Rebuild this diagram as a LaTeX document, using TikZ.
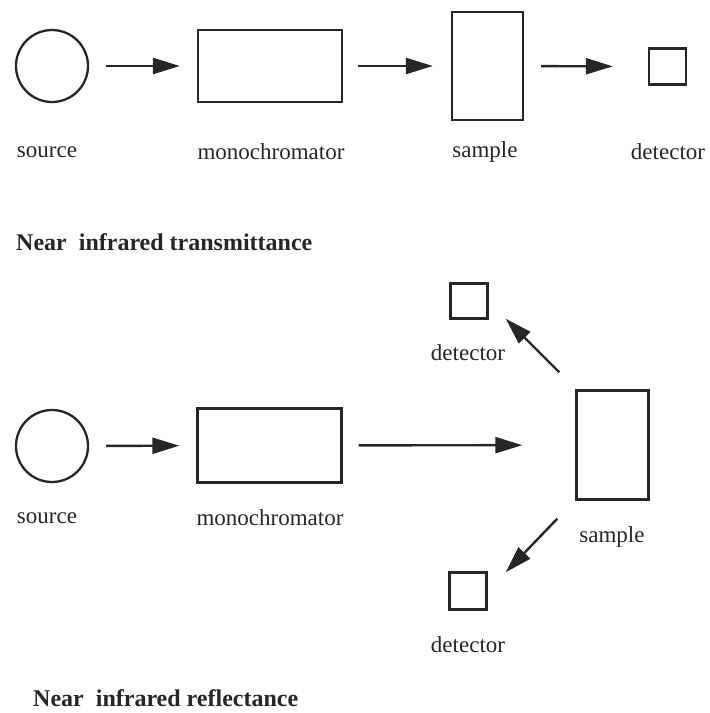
\documentclass[tikz,border=0pt]{standalone}
\usepackage{fontspec}
\setmainfont{Liberation Serif}
\usetikzlibrary{arrows.meta,calc}

\tikzset{
  part/.style={draw=black!85, line width=2.3pt, inner sep=0pt, fill=none},
  lamp/.style={part, circle, minimum size=72pt},
  unit/.style={part, rectangle},
  lbl/.style={font=\fontsize{23}{27}\selectfont, inner sep=0pt, text=black!85},
  ttl/.style={font=\fontsize{24}{28}\selectfont\bfseries, inner sep=0pt, anchor=west, text=black!85},
  beam/.style={line width=2.4pt, draw=black!85, -{Triangle[length=27pt,width=16pt]}}
}

\begin{document}
\begin{tikzpicture}[x=1pt,y=-1pt]
\useasboundingbox (0,0) rectangle (710,713);

% transmittance layout
\node[lamp] (src1) at (52,66) {};
\node[unit, minimum width=144pt, minimum height=72pt] (mono1) at (270,66) {};
\node[unit, minimum width=71pt, minimum height=108pt] (smp1) at (487.5,66) {};
\node[unit, minimum width=37pt, minimum height=36pt] (det1) at (667.5,66.5) {};

\node[lbl] (src1l) at (47,152) {source};
\node[lbl] (mono1l) at (271,152) {monochromator};
\node[lbl] (smp1l) at (485,152) {sample};
\node[lbl] (det1l) at (668,152) {detector};

\draw[beam, shorten <=17pt, shorten >=17pt] (src1) -- (mono1);
\draw[beam, shorten <=15pt, shorten >=18pt] (mono1) -- (smp1);
\draw[beam, shorten <=17pt, shorten >=35pt] (smp1) -- (det1);

\node[ttl] (tt1) at (16,242) {Near\ \ infrared transmittance};

% reflectance layout
\node[lamp] (src2) at (52,446) {};
\node[unit, minimum width=144pt, minimum height=74pt] (mono2) at (269.5,445.5) {};
\node[unit, minimum width=72pt, minimum height=109pt] (smp2) at (612.5,445) {};
\node[unit, minimum width=37pt, minimum height=35pt] (det2) at (469,301) {};
\node[unit, minimum width=37pt, minimum height=37pt] (det3) at (468,591) {};

\node[lbl] (src2l) at (47,518) {source};
\node[lbl] (mono2l) at (270,518) {monochromator};
\node[lbl] (smp2l) at (612,537) {sample};
\node[lbl] (det2l) at (468,353) {detector};
\node[lbl] (det3l) at (468,645) {detector};

\draw[beam, shorten <=17pt, shorten >=17pt] (src2) -- (mono2);
\draw[beam, shorten <=16pt, shorten >=53pt] (mono2) -- (smp2);
\draw[beam] ($(smp2.north west)+(-16,-17)$) -- ($(det2.south east)+(17,-1)$);
\draw[beam] ($(smp2.south west)+(-18,18)$) -- ($(det3.north east)+(18,1)$);

\node[ttl] (tt2) at (33,698) {Near\ \ infrared reflectance};
\end{tikzpicture}
\end{document}
